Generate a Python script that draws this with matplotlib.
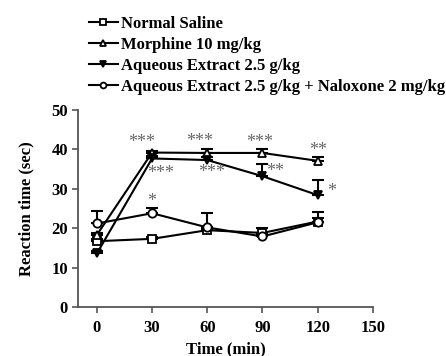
import numpy as np
import matplotlib
matplotlib.use('Agg')
import matplotlib.pyplot as plt

plt.rcParams['font.family'] = ['Liberation Serif', 'DejaVu Serif']
plt.rcParams['font.weight'] = 'bold'

# data
time = [0, 30, 60, 90, 120]
saline = [16.7, 17.3, 19.5, 18.8, 21.7]
saline_err = [0.5, 0.4, 0.5, 1.3, 1.0]
morphine = [18.3, 39.2, 39.1, 39.1, 37.1]
morphine_err = [0.5, 0.5, 1.0, 0.9, 0.9]
extract = [13.6, 37.7, 37.3, 33.2, 28.4]
extract_err = [0.5, 0.5, 0.8, 3.1, 3.8]
naloxone = [21.2, 23.8, 20.2, 17.9, 21.5]
naloxone_err = [3.2, 1.4, 3.7, 0.5, 2.7]

labels = ['Normal Saline', 'Morphine 10 mg/kg', 'Aqueous Extract 2.5 g/kg',
          'Aqueous Extract 2.5 g/kg + Naloxone 2 mg/kg']

# significance marks: (text, x, y)
stars = [('***', 24.3, 41.7), ('***', 34.8, 34.0), ('*', 30, 26.9),
         ('***', 56, 41.9), ('***', 62.3, 34.1),
         ('***', 88.3, 41.7), ('**', 96.7, 34.3),
         ('**', 120.4, 39.7), ('*', 127.5, 29.3)]

fig = plt.figure(figsize=(4.46, 3.56), dpi=100)
ax = fig.add_axes([0.176, 0.1376, 0.66, 0.5534])

series = [(saline, saline_err, 's', 'white'),
          (morphine, morphine_err, '^', 'white'),
          (extract, extract_err, 'v', 'black'),
          (naloxone, naloxone_err, 'o', 'white')]

handles = []
for (y, e, m, fc), lab in zip(series, labels):
    ax.errorbar(time, y, yerr=[np.zeros(len(e)), e], fmt='none',
                ecolor='black', elinewidth=1.5, capsize=4, capthick=1.5,
                zorder=2)
    h, = ax.plot(time, y, color='black', lw=1.5, marker=m, ms=6,
                 mfc=fc, mec='black', mew=1.3, label=lab, zorder=3)
    handles.append(h)

for s, x, y in stars:
    ax.text(x, y, s, ha='center', va='center', fontsize=13,
            color='#666666', fontweight='normal')

ax.set_xlim(-10, 150)
ax.set_ylim(0, 50)
ax.set_xticks([0, 30, 60, 90, 120, 150])
ax.set_yticks([0, 10, 20, 30, 40, 50])
for sp in ['top', 'right']:
    ax.spines[sp].set_visible(False)
for sp in ['left', 'bottom']:
    ax.spines[sp].set_color('#555555')
    ax.spines[sp].set_linewidth(1.3)
ax.tick_params(colors='#555555', labelcolor='black', labelsize=12,
               length=4, width=1.2)
ax.tick_params(axis='x', pad=5)
for t in ax.get_xticklabels() + ax.get_yticklabels():
    t.set_fontweight('bold')

ax.set_xlabel('Time (min)', fontsize=12, fontweight='bold', labelpad=4)
ax.set_ylabel('Reaction time (sec)', fontsize=12, fontweight='bold',
              labelpad=12)

fig.legend(handles=handles, labels=labels, loc='upper left',
           bbox_to_anchor=(0.185, 0.975), frameon=False,
           handlelength=1.7, handletextpad=0.2, labelspacing=0.3,
           borderaxespad=0, markerscale=0.7,
           prop={'weight': 'bold', 'size': 12})

fig.savefig('out.png', dpi=100)
